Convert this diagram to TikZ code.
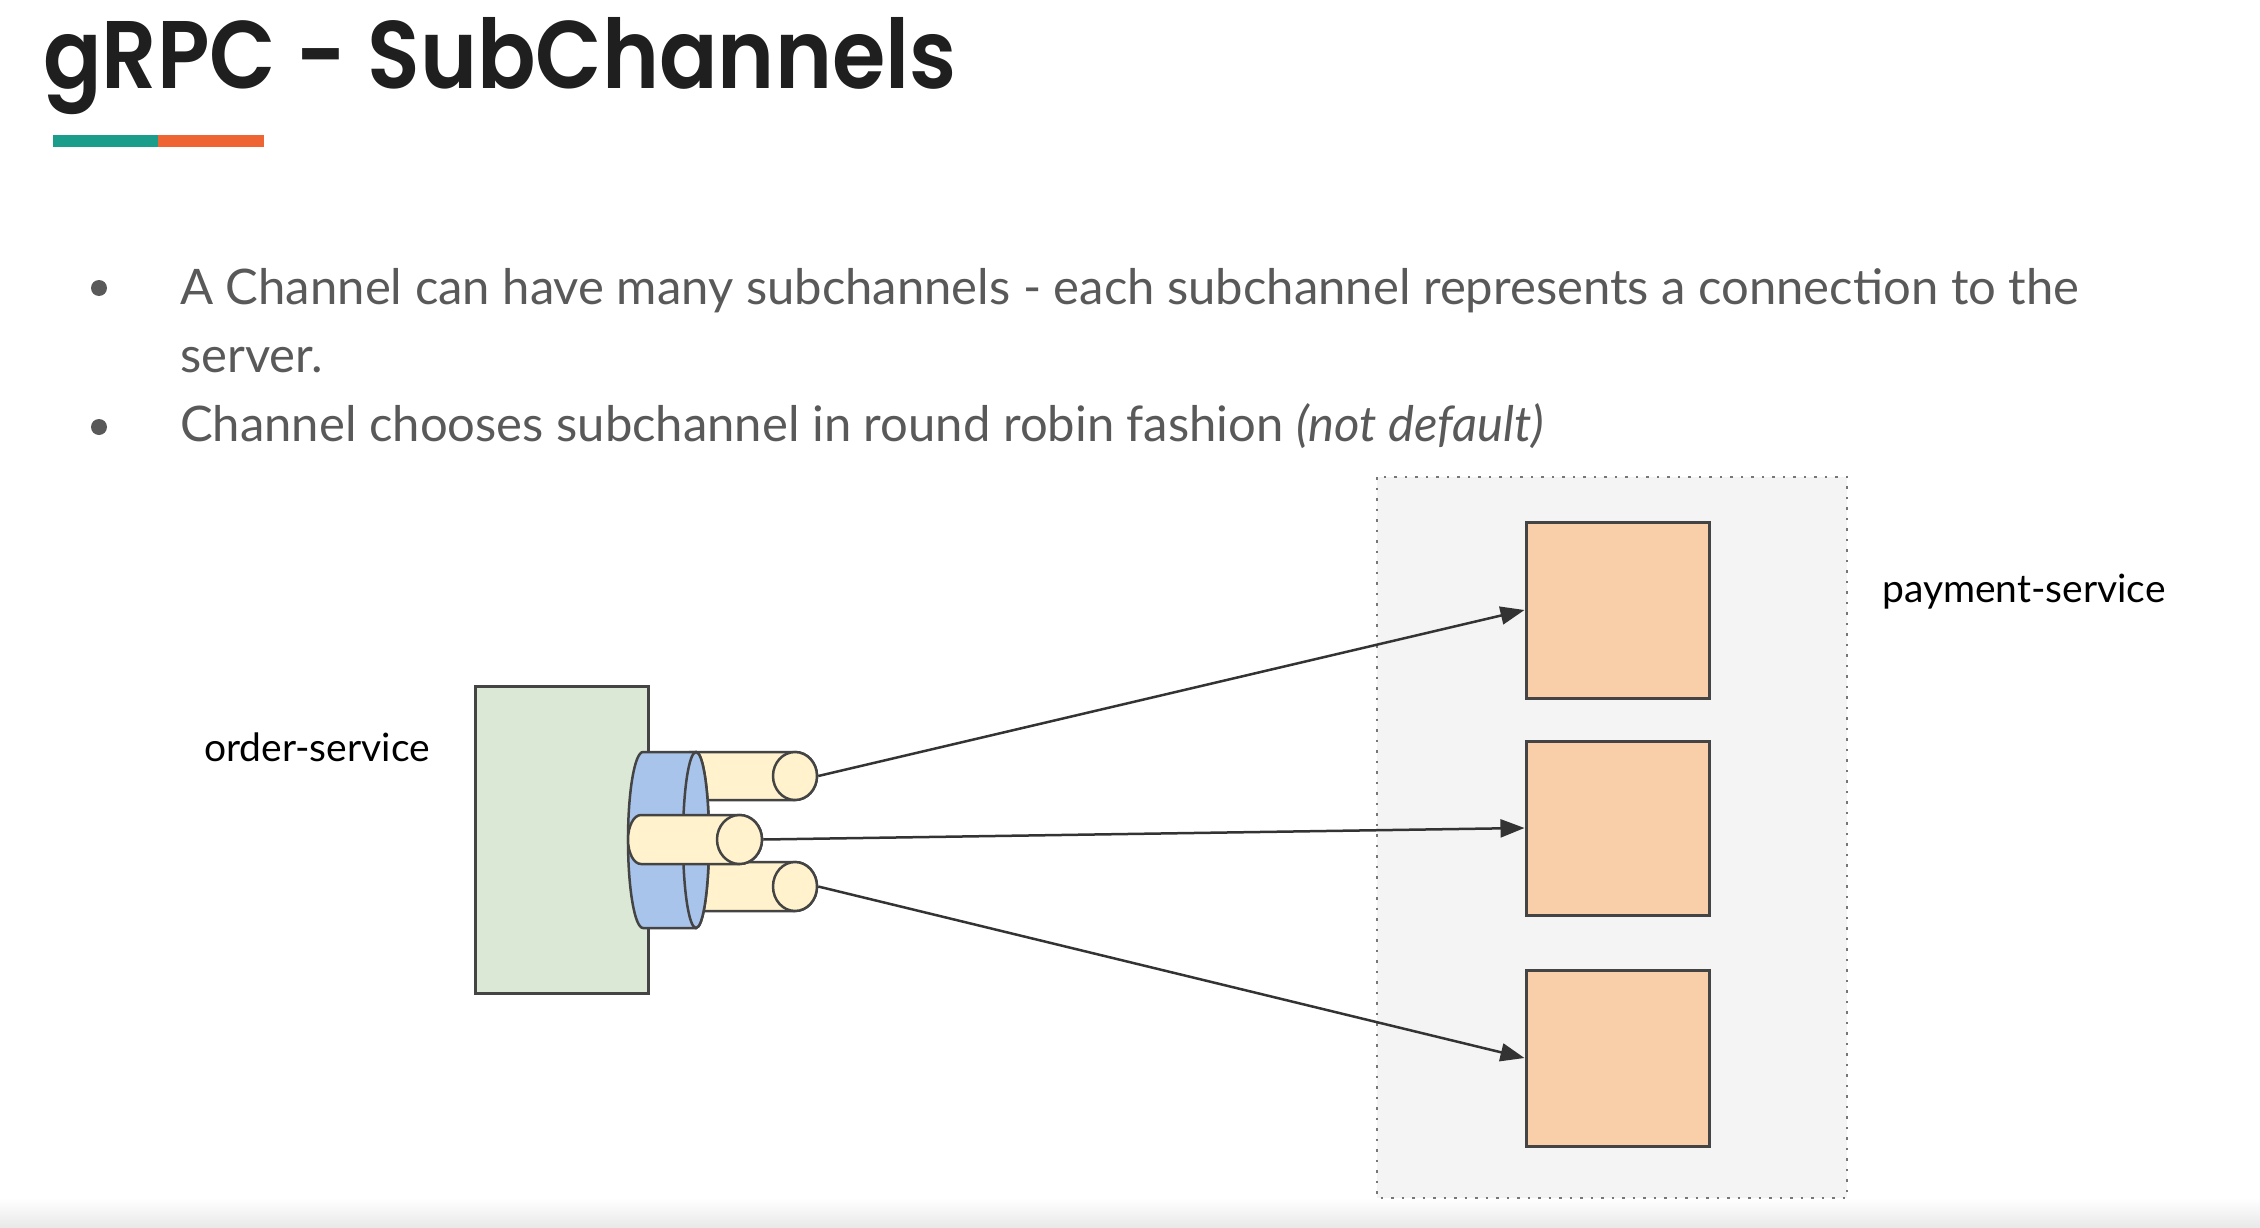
\documentclass[tikz,border=0pt]{standalone}
\usepackage{fontspec}
\setmainfont{Lato}
\newfontfamily\titlefont{Poppins SemiBold}
\usetikzlibrary{arrows.meta,shapes.geometric}

\definecolor{titleink}{HTML}{1F1F1F}
\definecolor{bodyink}{HTML}{595959}
\definecolor{teal}{HTML}{1A9E8B}
\definecolor{accent}{HTML}{EE6433}
\definecolor{edge}{HTML}{444444}
\definecolor{greenfill}{HTML}{DAE8D5}
\definecolor{bluefill}{HTML}{A9C4EB}
\definecolor{beigefill}{HTML}{FFF2CC}
\definecolor{peach}{HTML}{F9CFA9}
\definecolor{groupfill}{HTML}{F4F4F4}
\definecolor{groupedge}{HTML}{777777}
\definecolor{wire}{HTML}{333333}

\tikzset{
  service/.style={draw=edge, line width=3pt, fill=#1, inner sep=0pt},
  face/.style={ellipse, draw=edge, line width=2.5pt, fill=beigefill, inner sep=0pt,
               minimum width=44pt, minimum height=48pt},
  tube/.style={draw=edge, line width=2.5pt, fill=beigefill},
  wirearrow/.style={draw=wire, line width=2.5pt, -{Triangle[length=24pt,width=18pt]}},
  label/.style={inner sep=0pt, font=\fontsize{39}{47}\selectfont, text=black},
  bullettext/.style={inner sep=0pt, anchor=base west, text=bodyink,
                     font=\fontsize{49}{68}\selectfont},
}

\begin{document}
\begin{tikzpicture}[x=1pt,y=1pt]
  % page
  \fill[white] (0,0) rectangle (2260,-1228);
  \useasboundingbox (0,0) rectangle (2260,-1228);
  \shade[top color=white, bottom color=black!9] (0,-1198) rectangle (2260,-1228);

  % heading and accent bar
  \node[inner sep=0pt, anchor=base west, text=titleink,
        font=\titlefont\fontsize{96}{110}\selectfont] (title) at (43,-89)
        {\scalebox{0.9}[1]{gRPC - SubChannels}};
  \fill[teal] (53,-135) rectangle (158,-147);
  \fill[accent] (158,-135) rectangle (264,-147);

  % bullet list
  \fill[bodyink] (99,-288) circle (8);
  \fill[bodyink] (99,-427) circle (8);
  \node[bullettext] (b1) at (180,-304)
    {A Channel can have many subchannels - each subchannel represents a connection to the};
  \node[bullettext] (b1cont) at (180,-372) {server.};
  \node[bullettext] (b2) at (180,-441)
    {Channel chooses subchannel in round robin fashion \textit{(not default)}};

  % server group
  \draw[draw=groupedge, fill=groupfill, line width=2.5pt, dash pattern=on 2.5pt off 8pt]
    (1377,-477) rectangle (1847,-1198);
  \node[service=peach, minimum width=183pt, minimum height=176pt] (p1) at (1617.5,-610) {};
  \node[service=peach, minimum width=183pt, minimum height=174pt] (p2) at (1617.5,-828) {};
  \node[service=peach, minimum width=183pt, minimum height=176pt] (p3) at (1617.5,-1058) {};
  \node[label, anchor=west] (pay) at (1882,-592) {payment-service};

  % client service
  \node[service=greenfill, minimum width=173pt, minimum height=307pt] (order) at (561.5,-839.5) {};
  \node[label] (ordlabel) at (317,-747) {order-service};

  % outer subchannels (behind the channel)
  \path[tube] (690,-752) -- (795,-752)
    arc[start angle=90, end angle=-90, x radius=22, y radius=24] -- (690,-800) -- cycle;
  \node[face] (e1) at (795,-776) {};
  \path[tube] (690,-862) -- (795,-862)
    arc[start angle=90, end angle=-90, x radius=22, y radius=24.5] -- (690,-911) -- cycle;
  \node[face, minimum height=49pt] (e3) at (795,-886.5) {};

  % channel
  \path[draw=edge, line width=2.5pt, fill=bluefill] (643,-752) -- (696,-752)
    arc[start angle=90, end angle=-90, x radius=13, y radius=88] -- (643,-928)
    arc[start angle=-90, end angle=-270, x radius=15, y radius=88] -- cycle;
  \draw[draw=edge, line width=2.5pt, fill=bluefill] (696,-840) ellipse [x radius=13, y radius=88];

  % middle subchannel (in front of the channel)
  \path[tube] (641,-815) -- (739.5,-815)
    arc[start angle=90, end angle=-90, x radius=22.5, y radius=24.5] -- (641,-864)
    arc[start angle=-90, end angle=-270, x radius=13, y radius=24.5] -- cycle;
  \node[face, minimum width=45pt, minimum height=49pt] (e2) at (739.5,-839.5) {};

  % connections
  \draw[wirearrow] (e1.east) -- (p1.west);
  \draw[wirearrow] (e2.east) -- (p2.west);
  \draw[wirearrow] (e3.east) -- (p3.west);
\end{tikzpicture}
\end{document}
